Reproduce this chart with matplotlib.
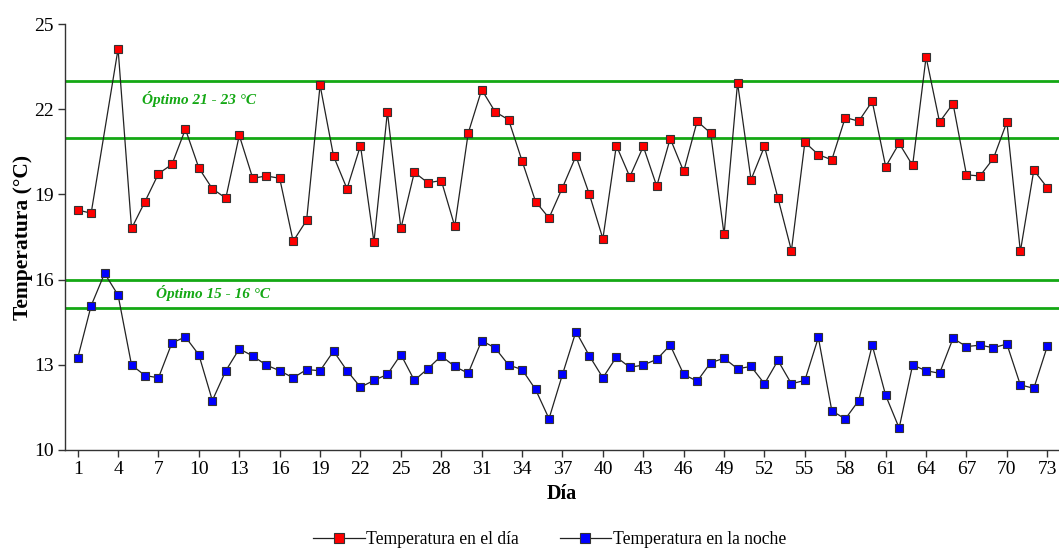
import matplotlib
matplotlib.use("Agg")
import matplotlib.pyplot as plt
import numpy as np

plt.rcParams['font.family'] = ['Liberation Serif', 'DejaVu Serif']

# daily readings, days 1..73 (day 3 has no daytime reading)
days = np.arange(1, 74)
temp_dia = [18.45, 18.34, np.nan, 24.13, 17.80, 18.75, 19.73, 20.06, 21.30, 19.93,
            19.20, 18.87, 21.08, 19.57, 19.65, 19.57, 17.35, 18.09, 22.85, 20.35,
            19.20, 20.72, 17.32, 21.91, 17.80, 19.78, 19.41, 19.49, 17.88, 21.16,
            22.69, 21.91, 21.63, 20.18, 18.75, 18.17, 19.24, 20.35, 19.00, 17.44,
            20.72, 19.62, 20.69, 19.29, 20.97, 19.81, 21.58, 21.16, 17.59, 22.93,
            19.52, 20.69, 18.87, 17.02, 20.84, 20.40, 20.22, 21.71, 21.58, 22.28,
            19.98, 20.80, 20.02, 23.84, 21.55, 22.20, 19.69, 19.65, 20.27, 21.55,
            16.99, 19.85, 19.24]
temp_noche = [13.23, 15.08, 16.22, 15.45, 12.99, 12.62, 12.54, 13.77, 13.98, 13.35,
              11.74, 12.79, 13.56, 13.31, 12.99, 12.79, 12.54, 12.83, 12.79, 13.48,
              12.79, 12.21, 12.45, 12.66, 13.36, 12.45, 12.86, 13.31, 12.94, 12.70,
              13.85, 13.59, 12.99, 12.83, 12.13, 11.10, 12.66, 14.17, 13.31, 12.54,
              13.27, 12.91, 12.99, 13.19, 13.69, 12.66, 12.42, 13.07, 13.23, 12.86,
              12.94, 12.33, 13.15, 12.33, 12.45, 13.96, 11.38, 11.09, 11.74, 13.69,
              11.92, 10.77, 12.99, 12.79, 12.70, 13.93, 13.64, 13.69, 13.60, 13.73,
              12.29, 12.17, 13.65]

optimo_dia = [21, 23]
optimo_noche = [15, 16]
yticks = [10, 13, 16, 19, 22, 25]
xticks = list(range(1, 74, 3))

green = '#14a814'

fig = plt.figure(figsize=(10.59, 5.48), dpi=100)
ax = fig.add_axes([0.0614, 0.179, 0.9386, 0.777])

for y in optimo_dia + optimo_noche:
    ax.axhline(y, color=green, lw=2.0, zorder=1)

ax.text(5.75, 22.35, 'Óptimo 21 - 23 °C', color=green, fontsize=11,
        fontweight='bold', style='italic', va='center', ha='left')
ax.text(6.8, 15.52, 'Óptimo 15 - 16 °C', color=green, fontsize=11,
        fontweight='bold', style='italic', va='center', ha='left')

dia = np.array(temp_dia)
ok = ~np.isnan(dia)
ax.plot(days[ok], dia[ok], color='#222222', lw=0.9, marker='s', ms=6,
        mfc='#ff0000', mec='#333333', mew=0.8, zorder=3,
        label='Temperatura en el día')
ax.plot(days, temp_noche, color='#222222', lw=0.9, marker='s', ms=6,
        mfc='#0000ff', mec='#333333', mew=0.8, zorder=3,
        label='Temperatura en la noche')

ax.set_xlim(0.06, 73.87)
ax.set_ylim(10, 25)
ax.set_xticks(xticks)
ax.set_yticks(yticks)
ax.tick_params(labelsize=14, length=5, width=1, color='#333333', pad=3)

for side in ['top', 'right']:
    ax.spines[side].set_visible(False)
for side in ['left', 'bottom']:
    ax.spines[side].set_color('#333333')
    ax.spines[side].set_linewidth(1)

ax.set_xlabel('Día', fontsize=14.5, fontweight='bold', labelpad=4)
ax.set_ylabel('Temperatura (°C)', fontsize=15.5, fontweight='bold', labelpad=1)

fig.legend(loc='center', bbox_to_anchor=(0.519, 0.016), ncol=2, frameon=False,
           fontsize=12.7, handlelength=2.9, handletextpad=0.1,
           columnspacing=2.3, numpoints=1, markerscale=1.15)

fig.savefig('out.png', dpi=100)
